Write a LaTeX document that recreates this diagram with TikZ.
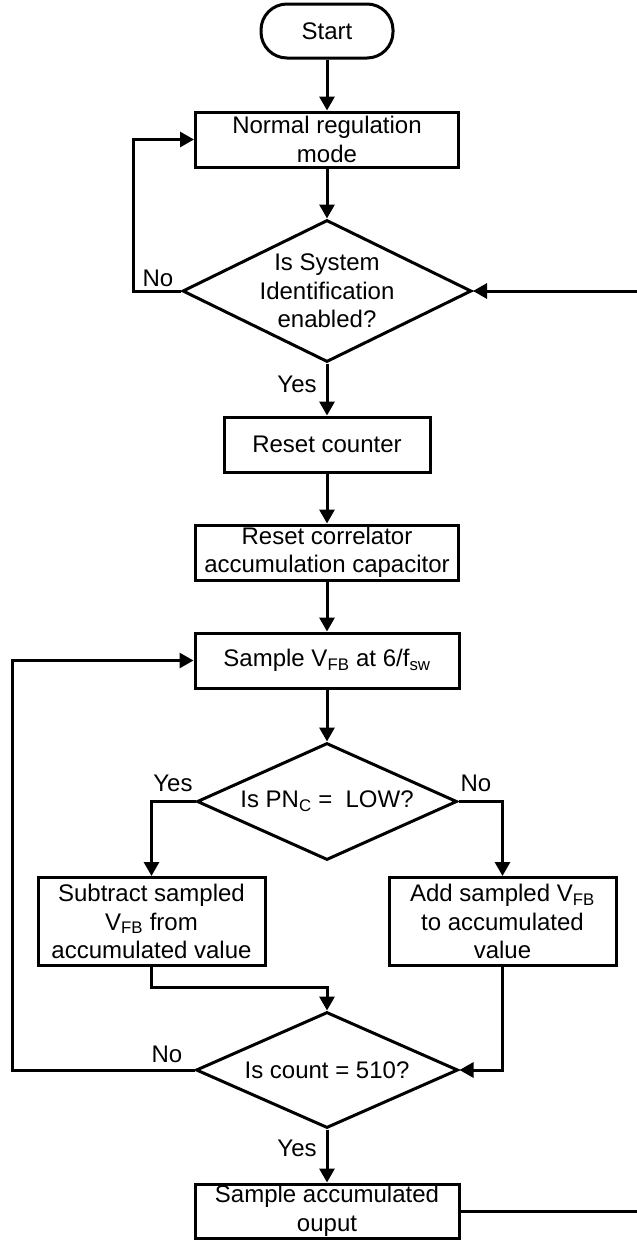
\documentclass[tikz,border=0pt]{standalone}
\usepackage{fontspec}
\setmainfont{Liberation Sans}
\usetikzlibrary{arrows.meta,shapes.geometric}

\tikzset{
  base/.style={draw=black, line width=3pt, inner sep=0pt, align=center,
    font=\fontsize{24}{28.5}\selectfont},
  procbox/.style={base, rectangle},
  termbox/.style={base, rectangle, rounded corners=26pt},
  decision/.style={base, diamond, aspect=2, inner sep=-30pt},
  lbl/.style={inner sep=0pt, font=\fontsize{24}{28.5}\selectfont},
  flow/.style={line width=3pt, -{Triangle[length=14pt,width=15pt]}}
}

\begin{document}
\begin{tikzpicture}[x=1pt,y=-1pt]
\useasboundingbox (0,0) rectangle (637,1240);

% main column
\node[termbox, minimum width=132pt, minimum height=54pt] (start) at (327,31) {Start};
\node[procbox, minimum width=263pt, minimum height=55pt] (normal) at (327,139.5) {Normal regulation\\mode};
\node[decision, minimum width=289pt, minimum height=142pt] (sysid) at (327,291) {Is System\\Identification\\enabled?};
\node[procbox, minimum width=206pt, minimum height=55pt] (rcount) at (327,444.5) {Reset counter};
\node[procbox, minimum width=263pt, minimum height=55pt] (rcap) at (327,552.5) {Reset correlator\\accumulation capacitor};
\node[procbox, minimum width=264pt, minimum height=55pt] (sample) at (327,660.5) {Sample V\textsubscript{FB} at 6/f\textsubscript{sw}};
\node[decision, minimum width=260pt, minimum height=117pt] (pnc) at (327,801.5) {Is PN\textsubscript{C} =\ \ LOW?};
\node[procbox, minimum width=227pt, minimum height=88pt] (sub) at (151.5,921.5) {Subtract sampled\\V\textsubscript{FB} from\\accumulated value};
\node[procbox, minimum width=227pt, minimum height=88pt] (add) at (502.5,921.5) {Add sampled V\textsubscript{FB}\\to accumulated\\value};
\node[decision, minimum width=262pt, minimum height=116pt] (count) at (327,1070) {Is count = 510?};
\node[procbox, minimum width=264pt, minimum height=54pt] (acc) at (327,1211) {Sample accumulated\\ouput};

% branch labels
\node[lbl] (no1) at (158,278) {No};
\node[lbl] (yes1) at (297,384) {Yes};
\node[lbl] (yes2) at (173,783) {Yes};
\node[lbl] (no2) at (476,783) {No};
\node[lbl] (no3) at (167,1054) {No};
\node[lbl] (yes3) at (297,1148) {Yes};

% turning points of the loops
\coordinate (l1) at (133,291);
\coordinate (l2) at (12,1070);
\coordinate (r1) at (645,1211);
\coordinate (r2) at (645,291);

% connectors
\draw[flow] (start) -- (normal);
\draw[flow] (normal) -- (sysid);
\draw[flow] (sysid) -- (rcount);
\draw[flow] (sysid.west) -- (l1) |- (normal.west);
\draw[flow] (rcount) -- (rcap);
\draw[flow] (rcap) -- (sample);
\draw[flow] (sample) -- (pnc);
\draw[flow] (pnc.west) -| (sub.north);
\draw[flow] (pnc.east) -| (add.north);
\draw[flow] (sub.south) -- ++(0,20) -| (count.north);
\draw[flow] (add.south) |- (count.east);
\draw[flow] (count.west) -- (l2) |- (sample.west);
\draw[flow] (count) -- (acc);
\draw[flow] (acc.east) -- (r1) -- (r2) -- (sysid.east);
\end{tikzpicture}
\end{document}
